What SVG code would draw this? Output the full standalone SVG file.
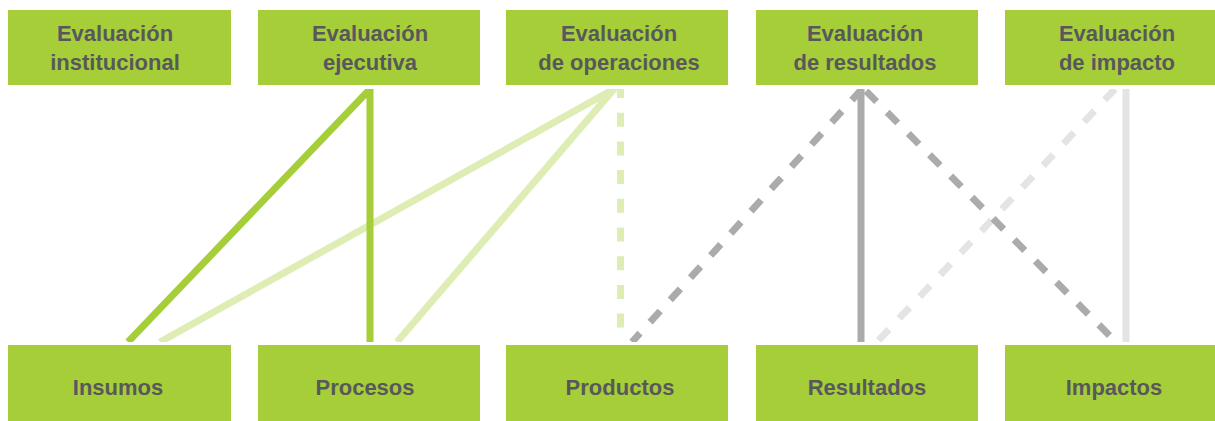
<svg xmlns="http://www.w3.org/2000/svg" width="1215" height="421" viewBox="0 0 1215 421">
<style>
.box{fill:#A6CE39}
.t{font-family:"Liberation Sans",Arial,sans-serif;font-weight:bold;font-size:22px;fill:#58585C;text-anchor:middle}
.ln{fill:none;stroke-width:7;stroke-linecap:butt}
.dg{stroke:#A6CE39}
.lg{stroke:#DDEDB4}
.gr{stroke:#ABABAB}
.lgr{stroke:#E4E4E4}
.dash{stroke-dasharray:15 15}
</style>
<defs>
<clipPath id="band"><rect x="0" y="89" width="1215" height="253"/></clipPath>
</defs>
<rect width="1215" height="421" fill="#FFFFFF"/>
<g id="connectors" clip-path="url(#band)">
<polyline class="ln lg" stroke-linejoin="miter" stroke-miterlimit="20" points="160,342 614,89 397,342"/>
<polyline class="ln dg" stroke-linejoin="miter" stroke-miterlimit="20" points="128,342 370,89 370,342"/>
<line class="ln lg" x1="620.5" y1="84" x2="620.5" y2="342" style="stroke-dasharray:14 14.7"/>
<line class="ln lgr dash" x1="1115" y1="89" x2="877" y2="342"/>
<line class="ln lgr" x1="1126" y1="89" x2="1126" y2="342"/>
<line class="ln gr dash" x1="862" y1="89" x2="632" y2="342"/>
<line class="ln gr" x1="861" y1="89" x2="861" y2="342"/>
<line class="ln gr dash" x1="866" y1="91" x2="1116" y2="342"/>
</g>
<g id="ev-institucional"><rect class="box" x="8" y="10" width="223" height="75"/><text class="t" x="115" y="41">Evaluación</text><text class="t" x="115" y="70">institucional</text></g>
<g id="ev-ejecutiva"><rect class="box" x="258" y="10" width="222" height="75"/><text class="t" x="370" y="41">Evaluación</text><text class="t" x="370" y="70">ejecutiva</text></g>
<g id="ev-operaciones"><rect class="box" x="506" y="10" width="222" height="75"/><text class="t" x="619" y="41">Evaluación</text><text class="t" x="619" y="70">de operaciones</text></g>
<g id="ev-resultados"><rect class="box" x="756" y="10" width="222" height="75"/><text class="t" x="865" y="41">Evaluación</text><text class="t" x="865" y="70">de resultados</text></g>
<g id="ev-impacto"><rect class="box" x="1005" y="10" width="210" height="75"/><text class="t" x="1117" y="41">Evaluación</text><text class="t" x="1117" y="70">de impacto</text></g>
<g id="insumos"><rect class="box" x="8" y="345" width="223" height="76"/><text class="t" x="118" y="395">Insumos</text></g>
<g id="procesos"><rect class="box" x="258" y="345" width="222" height="76"/><text class="t" x="365" y="395">Procesos</text></g>
<g id="productos"><rect class="box" x="506" y="345" width="222" height="76"/><text class="t" x="620" y="395">Productos</text></g>
<g id="resultados"><rect class="box" x="756" y="345" width="222" height="76"/><text class="t" x="867" y="395">Resultados</text></g>
<g id="impactos"><rect class="box" x="1005" y="345" width="210" height="76"/><text class="t" x="1114" y="395">Impactos</text></g>
</svg>
